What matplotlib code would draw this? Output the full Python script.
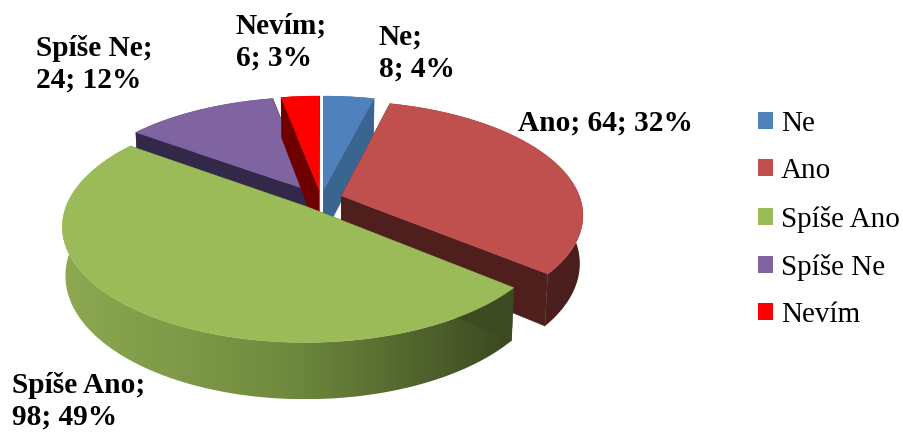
import numpy as np
import matplotlib
matplotlib.use('Agg')
import matplotlib.pyplot as plt
from matplotlib.colors import LinearSegmentedColormap
from matplotlib.patches import Patch, Polygon

categories = ['Ne', 'Ano', 'Spíše Ano', 'Spíše Ne', 'Nevím']
values = [8, 64, 98, 24, 6]
percents = [4, 32, 49, 12, 3]

top_colors = ['#4f81bd', '#c0504d', '#9bbb59', '#8064a2', '#ff0000']
cut_colors = ['#3a6591', '#4f1f1e', '#3d4a22', '#34284a', '#6e0000']
side_colors = [['#3a6591', '#3a6591'],
               ['#5a2423', '#4a1e1d'],
               ['#8ca850', '#7f9a48', '#6f8a3e', '#55692f', '#3a4820'],
               ['#34284a', '#34284a'],
               ['#6e0000', '#6e0000']]

# geometry of the tilted pie, in pixels
cx, cy = 321, 199
rx, ry = 239, 111
persp = 0.16
depth = 47
explode = 0.09
shrink = 0.012

plt.rcParams['font.family'] = ['Liberation Serif', 'DejaVu Serif']

fig = plt.figure(figsize=(9.04, 4.33), dpi=100)
ax = fig.add_axes([0, 0, 1, 1])


def project(u, v, z=0.0):
    s = 1 / (1 - persp * v)
    x = cx + rx * u * s * (1 - shrink * z)
    y = cy + ry * v * s + depth * z * s
    return np.column_stack([x, y])


total = sum(values)
edges = np.concatenate([[0], np.cumsum(values)]) / total * 2 * np.pi

# back slices first, so the front ones cover them
order = [3, 4, 0, 1, 2]
for i in order:
    a0, a1 = edges[i], edges[i + 1]
    mid = (a0 + a1) / 2
    off_u, off_v = explode * np.sin(mid), -explode * np.cos(mid)
    t = np.linspace(a0, a1, 120)
    u = off_u + np.sin(t)
    v = off_v - np.cos(t)

    arc_top = project(u, v)
    arc_bot = project(u, v, 1)
    tip_top = project(np.array([off_u]), np.array([off_v]))
    tip_bot = project(np.array([off_u]), np.array([off_v]), 1)

    # straight cut faces
    for j in [0, -1]:
        quad = np.vstack([tip_top, arc_top[j], arc_bot[j], tip_bot])
        ax.add_patch(Polygon(quad, closed=True, fc=cut_colors[i], ec=cut_colors[i], lw=0.3))

    # outer rim with horizontal shading
    rim = np.vstack([arc_top, arc_bot[::-1]])
    clip = Polygon(rim, closed=True, fc='none', ec='none', transform=ax.transData)
    ax.add_patch(clip)
    cmap = LinearSegmentedColormap.from_list('rim%d' % i, side_colors[i])
    im = ax.imshow(np.linspace(0, 1, 256).reshape(1, -1), cmap=cmap, aspect='auto',
                   extent=[rim[:, 0].min(), rim[:, 0].max(), rim[:, 1].max(), rim[:, 1].min()])
    im.set_clip_path(clip)

    # top face
    face = np.vstack([tip_top, arc_top])
    ax.add_patch(Polygon(face, closed=True, fc=top_colors[i], ec=top_colors[i], lw=0.3))

ax.set_xlim(0, 904)
ax.set_ylim(433, 0)
ax.set_axis_off()

label_pos = [(379, 24), (518, 110), (12, 372), (36, 35), (236, 13)]
label_breaks = [True, False, True, True, True]
for i, name in enumerate(categories):
    sep = ';\n' if label_breaks[i] else '; '
    ax.text(label_pos[i][0], label_pos[i][1], '%s%s%d; %d%%' % (name, sep, values[i], percents[i]),
            fontsize=21.2, fontweight='bold', color='black', ha='left', va='top', linespacing=1.22)

handles = [Patch(fc=c, ec='none') for c in top_colors]
leg = ax.legend(handles, categories, loc='upper left',
                bbox_to_anchor=(758 / 904, 1 - 111 / 433), bbox_transform=fig.transFigure,
                frameon=False, fontsize=21, handlelength=0.52, handleheight=0.52, handletextpad=0.26,
                labelspacing=0.73, borderpad=0, borderaxespad=0)

fig.savefig('out.png', dpi=100)
